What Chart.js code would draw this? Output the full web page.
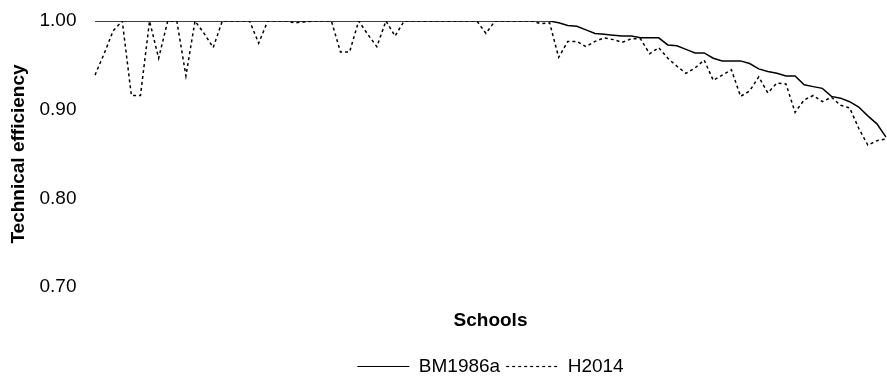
<!DOCTYPE html>
<html>
<head>
<meta charset="utf-8">
<script src="https://cdn.jsdelivr.net/npm/chart.js@4/dist/chart.umd.min.js"></script>
<style>
  html, body { margin: 0; padding: 0; background: #ffffff; }
  #wrap { width: 887px; height: 386px; }
</style>
</head>
<body>
<div id="wrap"><canvas id="c" width="887" height="386"></canvas></div>
<script>
// Schools (categories)
const schools = [1,2,3,4,5,6,7,8,9,10,11,12,13,14,15,16,17,18,19,20,
  21,22,23,24,25,26,27,28,29,30,31,32,33,34,35,36,37,38,39,40,
  41,42,43,44,45,46,47,48,49,50,51,52,53,54,55,56,57,58,59,60,
  61,62,63,64,65,66,67,68,69,70,71,72,73,74,75,76,77,78,79,80,
  81,82,83,84,85,86,87,88];

// BM1986a technical efficiency
const bm1986a = [1.000,1.000,1.000,1.000,1.000,1.000,1.000,1.000,1.000,1.000,
  1.000,1.000,1.000,1.000,1.000,1.000,1.000,1.000,1.000,1.000,
  1.000,1.000,1.000,1.000,1.000,1.000,1.000,1.000,1.000,1.000,
  1.000,1.000,1.000,1.000,1.000,1.000,1.000,1.000,1.000,1.000,
  1.000,1.000,1.000,1.000,1.000,1.000,1.000,1.000,1.000,1.000,
  1.000,0.998,0.995,0.994,0.990,0.986,0.985,0.984,0.983,0.983,
  0.981,0.981,0.981,0.973,0.972,0.968,0.964,0.964,0.958,0.955,
  0.955,0.955,0.952,0.946,0.943,0.941,0.938,0.938,0.928,0.926,
  0.924,0.915,0.913,0.909,0.903,0.893,0.884,0.869];

// H2014 technical efficiency
const h2014 = [0.939,0.963,0.989,1.000,0.916,0.916,1.000,0.958,1.000,1.000,
  0.938,1.000,0.986,0.970,1.000,1.000,1.000,1.000,0.975,1.000,
  1.000,1.000,0.998,0.999,1.000,1.000,1.000,0.965,0.965,1.000,
  0.985,0.971,1.000,0.983,1.000,1.000,1.000,1.000,1.000,1.000,
  1.000,1.000,1.000,0.986,1.000,1.000,1.000,1.000,1.000,0.997,
  0.998,0.959,0.977,0.977,0.971,0.977,0.981,0.979,0.976,0.980,
  0.980,0.963,0.970,0.958,0.949,0.941,0.947,0.956,0.933,0.939,
  0.945,0.915,0.921,0.937,0.919,0.930,0.929,0.897,0.911,0.916,
  0.909,0.914,0.905,0.902,0.879,0.860,0.865,0.867];

// Y-axis ticks
const yTicks = [0.70, 0.80, 0.90, 1.00];

const FONT = "'Liberation Sans', Arial, Helvetica, sans-serif";

const legendShift = {
  id: 'legendShift',
  afterLayout(chart) {
    if (chart.legend && chart.chartArea) {
      chart.legend.left = chart.chartArea.left;
      chart.legend.right = chart.chartArea.right;
    }
  }
};

new Chart(document.getElementById('c'), {
  type: 'line',
  data: {
    labels: schools,
    datasets: [
      {
        label: 'BM1986a',
        data: bm1986a,
        borderColor: '#000000',
        backgroundColor: '#000000',
        borderWidth: 1.5,
        pointRadius: 0,
        tension: 0,
        fill: false
      },
      {
        label: 'H2014',
        data: h2014,
        borderColor: '#000000',
        backgroundColor: '#000000',
        borderWidth: 1.5,
        borderDash: [3, 3],
        pointRadius: 0,
        tension: 0,
        fill: false
      }
    ]
  },
  options: {
    responsive: false,
    animation: false,
    devicePixelRatio: 1,
    layout: { padding: { top: 21, right: 1, left: 0, bottom: 0 } },
    plugins: {
      tooltip: { enabled: false },
      legend: {
        position: 'bottom',
        align: 'center',
        labels: {
          usePointStyle: true,
          pointStyle: 'line',
          pointStyleWidth: 52,
          padding: 6,
          color: '#000000',
          font: { family: FONT, size: 19 },
          generateLabels(chart) {
            const items = Chart.defaults.plugins.legend.labels.generateLabels(chart);
            items.forEach((it) => {
              const ds = chart.data.datasets[it.datasetIndex];
              it.pointStyle = 'line';
              it.lineDash = ds.borderDash || [];
              it.lineWidth = 1.2;
              it.strokeStyle = ds.borderColor;
              it.fillStyle = ds.borderColor;
            });
            return items;
          }
        }
      }
    },
    scales: {
      x: {
        type: 'category',
        offset: false,
        grid: { display: false, drawTicks: false },
        border: { display: false },
        ticks: { display: false },
        title: {
          display: true,
          text: 'Schools',
          color: '#000000',
          font: { family: FONT, size: 19, weight: 'bold' },
          padding: { top: 22.6, bottom: 18.6 }
        }
      },
      y: {
        min: 0.70,
        max: 1.00,
        grid: { display: false, drawTicks: false },
        border: { display: false },
        afterBuildTicks(scale) {
          scale.ticks = yTicks.map(v => ({ value: v }));
        },
        afterFit(scale) {
          scale.width = 95;
          scale.paddingTop = 0;
          scale.paddingBottom = 0;
        },
        ticks: {
          padding: 18.5,
          color: '#000000',
          font: { family: FONT, size: 19 },
          callback: (v) => Number(v).toFixed(2)
        },
        title: {
          display: true,
          text: 'Technical efficiency',
          color: '#000000',
          font: { family: FONT, size: 19, weight: 'bold' },
          padding: { top: 7.6, bottom: 9.1 }
        }
      }
    }
  },
  plugins: [legendShift]
});
</script>
</body>
</html>
